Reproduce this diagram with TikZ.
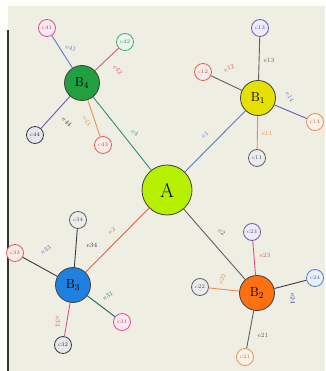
\documentclass[tikz,border=0pt]{standalone}
\begin{document}
\begin{tikzpicture}[x=1pt,y=-1pt,
  hub/.style={circle,draw=black!75,line width=0.8pt,minimum size=50pt,inner sep=0pt,font=\fontsize{20}{22}\selectfont},
  bnode/.style={circle,draw=black!75,line width=0.8pt,minimum size=35pt,inner sep=0pt,font=\fontsize{13}{14}\selectfont},
  leaf/.style={circle,draw=#1,line width=0.8pt,fill=#1!12,minimum size=17pt,inner sep=0pt,font=\fontsize{5.5}{6}\selectfont,text=#1!80!black},
  edge/.style={draw=#1,line width=0.9pt},
  lab/.style={font=\fontsize{6.5}{7}\selectfont,inner sep=0pt,text=#1}]
\definecolor{paper}{HTML}{EEEEE2}
\definecolor{lime}{HTML}{B6F000}
\definecolor{yel}{HTML}{E6E000}
\definecolor{org}{HTML}{FF7010}
\definecolor{blu}{HTML}{2080E0}
\definecolor{grn}{HTML}{20A040}
\definecolor{cpink}{HTML}{E0508A}
\definecolor{cblue}{HTML}{5A7AD0}
\definecolor{cteal}{HTML}{2A9080}
\definecolor{cred}{HTML}{E06050}
\definecolor{corange}{HTML}{E89050}
\definecolor{cgray}{HTML}{606060}
\definecolor{cpurple}{HTML}{6A5AB0}
\definecolor{cgreen}{HTML}{40B070}
\definecolor{cdark}{HTML}{3A3A48}
\definecolor{cnavy}{HTML}{30308A}
\useasboundingbox (0,0) rectangle (325,371);
\fill[white!95!paper] (0,0) rectangle (325,371);
\fill[paper] (8,6) rectangle (325,371);
\draw[black!80,line width=1.5pt] (8,30) -- (8,371);
% nodes
\node[hub,fill=lime] (A) at (167,190) {A};
\node[bnode,fill=yel] (B1) at (258,98) {B\textsubscript{1}};
\node[bnode,fill=org] (B2) at (257,293) {B\textsubscript{2}};
\node[bnode,fill=blu] (B3) at (73,285) {B\textsubscript{3}};
\node[bnode,fill=grn] (B4) at (82,83) {B\textsubscript{4}};
% leaves
\node[leaf=cpink] (c41) at (47,28) {c41};
\node[leaf=cgreen] (c42) at (125,42) {c42};
\node[leaf=cdark] (c44) at (35,135) {c44};
\node[leaf=cred] (c43) at (103,145) {c43};
\node[leaf=cpurple] (c13) at (260,28) {c13};
\node[leaf=cred] (c12) at (203,72) {c12};
\node[leaf=corange] (c14) at (315,122) {c14};
\node[leaf=cgray] (c11) at (257,158) {c11};
\node[leaf=cgray] (c34) at (78,220) {c34};
\node[leaf=cred] (c33) at (15,253) {c33};
\node[leaf=cpink] (c31) at (122,322) {c31};
\node[leaf=cdark] (c32) at (63,345) {c32};
\node[leaf=cpurple] (c23) at (252,232) {c23};
\node[leaf=cgray] (c22) at (200,287) {c22};
\node[leaf=cblue] (c24) at (315,278) {c24};
\node[leaf=corange] (c21) at (245,357) {c21};
% edges
\draw[edge=cblue] (A) -- (B1);
\draw[edge=cgray] (A) -- (B2);
\draw[edge=cred] (A) -- (B3);
\draw[edge=cteal] (A) -- (B4);
\draw[edge=cblue] (B4) -- (c41);
\draw[edge=cpink] (B4) -- (c42);
\draw[edge=cpurple] (B4) -- (c44);
\draw[edge=corange] (B4) -- (c43);
\draw[edge=cgray] (B1) -- (c13);
\draw[edge=cgray] (B1) -- (c12);
\draw[edge=cpurple] (B1) -- (c14);
\draw[edge=corange] (B1) -- (c11);
\draw[edge=cdark] (B3) -- (c34);
\draw[edge=cdark] (B3) -- (c33);
\draw[edge=cteal!70!black] (B3) -- (c31);
\draw[edge=cpink] (B3) -- (c32);
\draw[edge=cpink] (B2) -- (c23);
\draw[edge=corange] (B2) -- (c22);
\draw[edge=cdark] (B2) -- (c24);
\draw[edge=cgray] (B2) -- (c21);
% labels
\node[lab=cblue,rotate=-20] (l41) at (71,48) {e41};
\node[lab=cpink,rotate=-50] (l42) at (118,70) {e42};
\node[lab=cdark,rotate=-45] (l44) at (67,122) {e44};
\node[lab=corange,rotate=-60] (l43) at (87,121) {e43};
\node[lab=cteal,rotate=-35] (l4) at (135,133) {e4};
\node[lab=cgray] (l13) at (269,60) {e13};
\node[lab=cred,rotate=25] (l12) at (229,68) {e12};
\node[lab=cblue,rotate=-60] (l14) at (290,97) {e14};
\node[lab=corange] (l11) at (267,133) {e11};
\node[lab=cblue,rotate=35] (l1) at (205,135) {e1};
\node[lab=cdark] (l34) at (92,245) {e34};
\node[lab=cpurple,rotate=30] (l33) at (46,250) {e33};
\node[lab=cteal!80!black,rotate=30] (l31) at (108,296) {e31};
\node[lab=cpink,rotate=-90] (l32) at (58,322) {e32};
\node[lab=cred,rotate=25] (l3) at (112,231) {e3};
\node[lab=cpink] (l23) at (265,255) {e23};
\node[lab=corange,rotate=70] (l22) at (222,279) {e22};
\node[lab=cnavy,rotate=-90] (l24) at (293,299) {e24};
\node[lab=cgray] (l21) at (263,335) {e21};
\node[lab=cgray,rotate=-40] (l2) at (222,232) {e2};
\end{tikzpicture}
\end{document}
